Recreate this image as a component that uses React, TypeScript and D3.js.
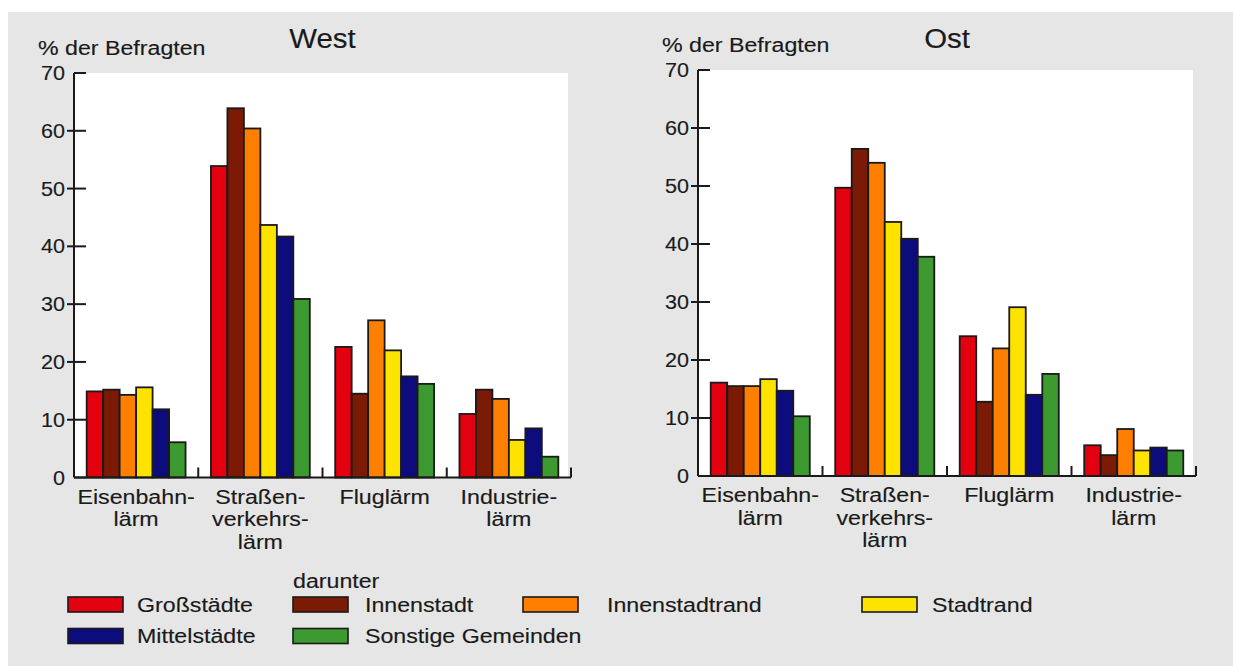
import { scaleBand, scaleLinear, range } from 'd3';

// Lärmbelästigung, West vs. Ost
const categories = ['Eisenbahnlärm', 'Straßenverkehrslärm', 'Fluglärm', 'Industrielärm'];
const categoryLines = [['Eisenbahn-', 'lärm'], ['Straßen-', 'verkehrs-', 'lärm'], ['Fluglärm'], ['Industrie-', 'lärm']];
const series = ['Großstädte', 'Innenstadt', 'Innenstadtrand', 'Stadtrand', 'Mittelstädte', 'Sonstige Gemeinden'];
const seriesColors = ['#e3000f', '#7b1a05', '#ff7f00', '#ffe300', '#0c0c7c', '#3c9a30'];
const yTicks = [0, 10, 20, 30, 40, 50, 60, 70];

// values per category, in series order
const westEisenbahn = [14.9, 15.2, 14.3, 15.6, 11.8, 6.1];
const westStrasse = [53.9, 63.9, 60.4, 43.7, 41.7, 30.9];
const westFlug = [22.6, 14.5, 27.2, 22.0, 17.5, 16.2];
const westIndustrie = [11.0, 15.2, 13.6, 6.5, 8.5, 3.6];

const ostEisenbahn = [16.1, 15.5, 15.5, 16.7, 14.7, 10.3];
const ostStrasse = [49.7, 56.4, 54.0, 43.8, 40.9, 37.8];
const ostFlug = [24.1, 12.8, 22.0, 29.1, 14.0, 17.6];
const ostIndustrie = [5.3, 3.6, 8.1, 4.4, 4.9, 4.4];

const FONT = '"Liberation Sans", Arial, Helvetica, sans-serif';
const INK = '#1a1a1a';

const T = ({ x, y, anchor = 'start', size = 20, sx = 1.16, children }: any) => (
  <text
    transform={`translate(${x},${y}) scale(${sx},1)`}
    textAnchor={anchor}
    fontSize={size}
    fontFamily={FONT}
    fill={INK}
    stroke={INK}
    strokeWidth={0.15}
  >
    {children}
  </text>
);

interface PanelProps {
  title: string;
  values: number[][];
  left: number;
  right: number;
  top: number;
  bottom: number;
}

const Panel = ({ title, values, left, right, top, bottom }: PanelProps) => {
  const x0 = scaleBand().domain(categories).range([left, right]).padding(0);
  const x1 = scaleBand()
    .domain(series)
    .range([0, x0.bandwidth()])
    .paddingInner(0)
    .paddingOuter(0.77);
  const y = scaleLinear().domain([0, 70]).range([bottom, top]);

  return (
    <g>
      <rect x={left} y={top} width={right - left - 3} height={bottom - top} fill="#ffffff" />

      {categories.map((c, ci) => (
        <g key={c} transform={`translate(${x0(c)},0)`}>
          {series.map((s, si) => (
            <rect
              key={s}
              x={x1(s)}
              y={y(values[ci][si])}
              width={x1.bandwidth()}
              height={y(0) - y(values[ci][si])}
              fill={seriesColors[si]}
              stroke={INK}
              strokeWidth={1.8}
            />
          ))}
        </g>
      ))}

      {/* y axis */}
      <line x1={left} x2={left} y1={top} y2={bottom} stroke={INK} strokeWidth={2} />
      {yTicks.map((t) => (
        <g key={t}>
          <line
            x1={t === 0 || t === 70 ? left : left - 7}
            x2={left + 12}
            y1={y(t)}
            y2={y(t)}
            stroke={INK}
            strokeWidth={2}
          />
          <T x={left - 9} y={y(t) + 7} anchor="end" sx={1.08}>
            {t}
          </T>
        </g>
      ))}

      {/* x axis */}
      <line x1={left} x2={right} y1={bottom} y2={bottom} stroke={INK} strokeWidth={2} />
      {range(1, categories.length + 1).map((i) => (
        <line
          key={i}
          x1={left + i * x0.step()}
          x2={left + i * x0.step()}
          y1={bottom}
          y2={bottom - 10}
          stroke={INK}
          strokeWidth={2}
        />
      ))}
      {categories.map((c, ci) =>
        categoryLines[ci].map((ln, li) => (
          <T key={c + li} x={(x0(c) as number) + x0.bandwidth() / 2} y={bottom + 26 + li * 22.5} anchor="middle">
            {ln}
          </T>
        )),
      )}

      <T x={left - 36} y={top - 18}>% der Befragten</T>
      <T x={(left + right) / 2} y={48} anchor="middle" size={28} sx={1.05}>
        {title}
      </T>
    </g>
  );
};

const legendCols = [
  { sx: 68, tx: 137 },
  { sx: 293, tx: 365 },
  { sx: 523, tx: 607 },
  { sx: 862, tx: 932 },
];
const legendRows = [597, 628.5];

export default function App() {
  const westValues = [westEisenbahn, westStrasse, westFlug, westIndustrie];
  const ostValues = [ostEisenbahn, ostStrasse, ostFlug, ostIndustrie];

  return (
    <svg
      width={1233}
      height={666}
      style={{ position: 'absolute', left: 0, top: 0, background: '#ffffff' }}
    >
      <rect x={8} y={12} width={1233 - 8} height={666 - 12} fill="#e6e6e6" />

      <Panel title="West" values={westValues} left={74} right={571} top={73} bottom={477.5} />
      <Panel title="Ost" values={ostValues} left={698} right={1196} top={70} bottom={476} />

      <T x={293} y={588}>darunter</T>
      {series.map((s, i) => {
        const col = legendCols[i % 4];
        const rowY = legendRows[Math.floor(i / 4)];
        return (
          <g key={s}>
            <rect
              x={col.sx}
              y={rowY}
              width={55}
              height={15}
              fill={seriesColors[i]}
              stroke={INK}
              strokeWidth={1.6}
            />
            <T x={col.tx} y={rowY + 14.5}>
              {s}
            </T>
          </g>
        );
      })}
    </svg>
  );
}
